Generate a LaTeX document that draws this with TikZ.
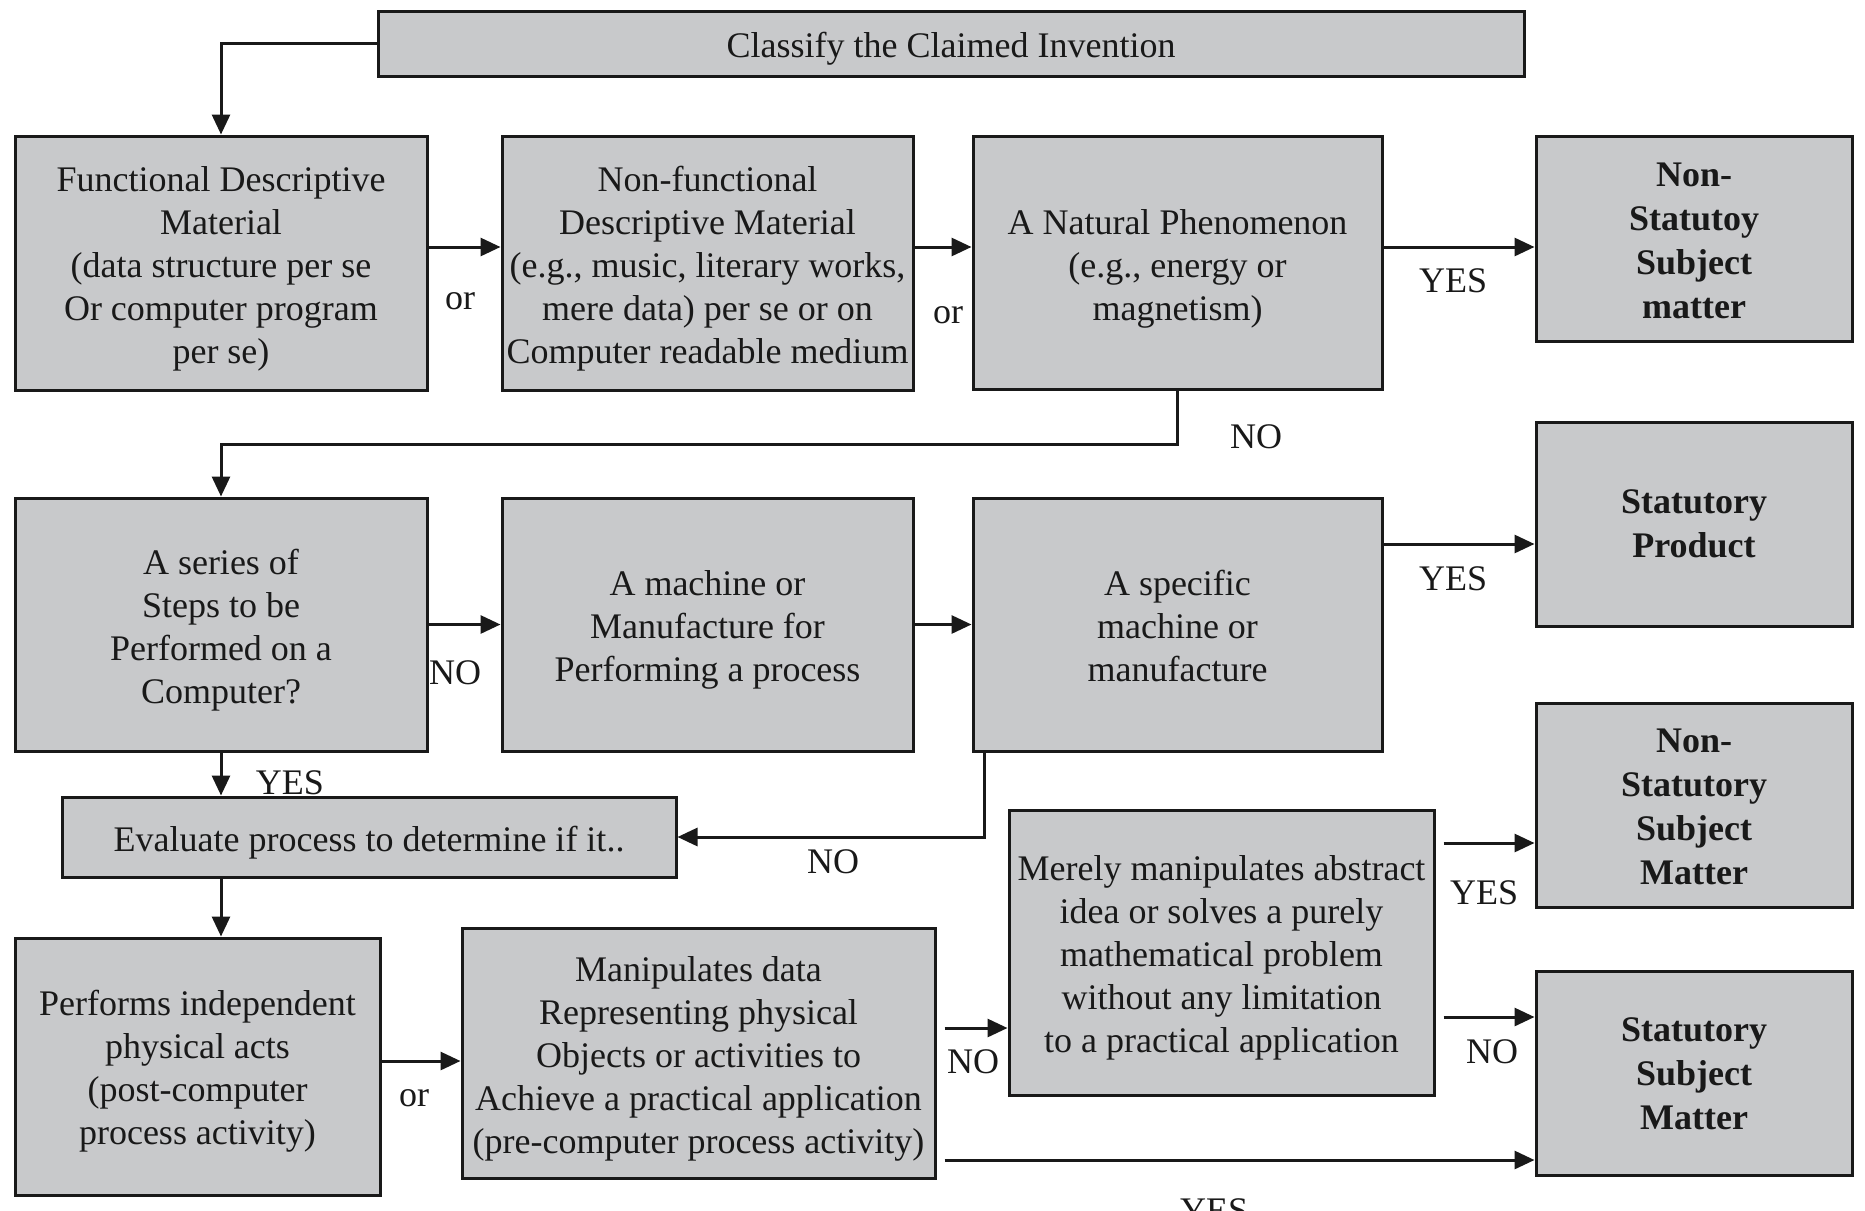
\documentclass[tikz,border=0pt]{standalone}
\usepackage{fontspec}
\setmainfont{Liberation Serif}
\usetikzlibrary{arrows.meta}
\definecolor{boxgray}{RGB}{200,201,203}
\definecolor{ink}{RGB}{25,25,25}
\tikzset{
  box/.style={draw=ink, line width=3pt, fill=boxgray, inner sep=0pt},
  txt/.style={inner sep=0pt, align=center, font=\fontsize{36}{43}\selectfont, text=ink},
  btxt/.style={txt, font=\bfseries\fontsize{36}{44}\selectfont},
  lbl/.style={inner sep=0pt, font=\fontsize{36}{44}\selectfont, text=ink},
  arr/.style={draw=ink, line width=3pt, -{Triangle[length=20pt,width=18pt]}},
}
\begin{document}
\begin{tikzpicture}[x=1pt,y=-1pt]
\useasboundingbox[fill=white] (0,0) rectangle (1865,1210);
\begin{scope}
\clip (0,0) rectangle (1865,1210);
% boxes
\node[box, minimum width=1146pt, minimum height=65pt] (cl) at (951,43.5) {};
\node[box, minimum width=412pt, minimum height=254pt] (fd) at (221,263) {};
\node[box, minimum width=411pt, minimum height=254pt] (nf) at (707.5,263) {};
\node[box, minimum width=409pt, minimum height=253pt] (np) at (1177.5,262.5) {};
\node[box, minimum width=316pt, minimum height=205pt] (ns1) at (1694,238.5) {};
\node[box, minimum width=412pt, minimum height=253pt] (sr) at (221,624.5) {};
\node[box, minimum width=411pt, minimum height=253pt] (mc) at (707.5,624.5) {};
\node[box, minimum width=409pt, minimum height=253pt] (sp) at (1177.5,624.5) {};
\node[box, minimum width=316pt, minimum height=204pt] (sp2) at (1694,524) {};
\node[box, minimum width=614pt, minimum height=80pt] (ev) at (369,837) {};
\node[box, minimum width=316pt, minimum height=204pt] (ns3) at (1694,805) {};
\node[box, minimum width=425pt, minimum height=285pt] (me) at (1221.5,952.5) {};
\node[box, minimum width=316pt, minimum height=204pt] (ssm) at (1694,1073) {};
\node[box, minimum width=365pt, minimum height=257pt] (pf) at (197.5,1066.5) {};
\node[box, minimum width=473pt, minimum height=250pt] (mp) at (698.5,1053) {};
% box texts
\node[txt] (cl-t) at ([yshift=-5pt]cl.center) {Classify the Claimed Invention};
\node[txt] (fd-t) at ([yshift=-6pt]fd.center) {Functional Descriptive\\Material\\(data structure per se\\Or computer program\\per se)};
\node[txt] (nf-t) at ([yshift=-6pt]nf.center) {Non-functional\\Descriptive Material\\(e.g., music, literary works,\\mere data) per se or on\\Computer readable medium};
\node[txt] (np-t) at ([yshift=-6pt]np.center) {A Natural Phenomenon\\(e.g., energy or\\magnetism)};
\node[btxt] (ns1-t) at ([yshift=-2pt]ns1.center) {Non-\\Statutoy\\Subject\\matter};
\node[txt] (sr-t) at ([yshift=-6pt]sr.center) {A series of\\Steps to be\\Performed on a\\Computer?};
\node[txt] (mc-t) at ([yshift=-5pt]mc.center) {A machine or\\Manufacture for\\Performing a process};
\node[txt] (sp-t) at ([yshift=-1pt]sp.center) {A specific\\machine or\\manufacture};
\node[btxt] (sp2-t) at (sp2.center) {Statutory\\Product};
\node[txt] (ev-t) at ([yshift=-6pt]ev.center) {Evaluate process to determine if it..};
\node[btxt] (ns3-t) at ([yshift=-2pt]ns3.center) {Non-\\Statutory\\Subject\\Matter};
\node[txt] (me-t) at ([yshift=-5pt]me.center) {Merely manipulates abstract\\idea or solves a purely\\mathematical problem\\without any limitation\\to a practical application};
\node[btxt] (ssm-t) at ([yshift=-1pt]ssm.center) {Statutory\\Subject\\Matter};
\node[txt] (pf-t) at ([yshift=-5pt]pf.center) {Performs independent\\physical acts\\(post-computer\\process activity)};
\node[txt] (mp-t) at ([yshift=-6pt]mp.center) {Manipulates data\\Representing physical\\Objects or activities to\\Achieve a practical application\\(pre-computer process activity)};
% connectors
\draw[arr] (cl.west) -| (fd.north);
\coordinate (a1) at ([yshift=16pt]fd.east);
\draw[arr] (a1) -- (a1 -| nf.west);
\coordinate (a2) at ([yshift=16pt]nf.east);
\draw[arr] (a2) -- (a2 -| np.west);
\coordinate (a3) at ([yshift=15.5pt]np.east);
\draw[arr] (a3) -- (a3 -| ns1.west);
\draw[arr] (np.south) -- ++(0,54) -| (sr.north);
\draw[arr] (sr.east) -- (mc.west);
\draw[arr] (mc.east) -- (sp.west);
\coordinate (a4) at ([yshift=80.5pt]sp.east);
\draw[arr] (a4) -- (a4 -| sp2.west);
\draw[arr] (sr.south) -- (sr.south |- ev.north);
\coordinate (a5) at ([xshift=13pt]sp.south west);
\draw[arr] (a5) |- (ev.east);
\coordinate (a6) at (sr.south |- ev.south);
\draw[arr] (a6) -- (a6 |- pf.north);
\coordinate (a7) at ([yshift=5.5pt]pf.east);
\draw[arr] (a7) -- (a7 -| mp.west);
\coordinate (a8) at ([xshift=8pt,yshift=25pt]mp.east);
\draw[arr] (a8) -- (a8 -| me.west);
\coordinate (a9) at ([xshift=8pt,yshift=109.5pt]me.east);
\draw[arr] (a9) -- (a9 -| ns3.west);
\coordinate (a10) at ([xshift=8pt,yshift=-64.5pt]me.east);
\draw[arr] (a10) -- (a10 -| ssm.west);
\coordinate (a11) at ([xshift=8pt,yshift=-107pt]mp.east);
\draw[arr] (a11) -- (a11 -| ssm.west);
% labels
\node[lbl] (l1) at (460,301) {or};
\node[lbl] (l2) at (948,315) {or};
\node[lbl] (l3) at (1453,281) {YES};
\node[lbl] (l4) at (1256,437) {NO};
\node[lbl] (l5) at (455,673) {NO};
\node[lbl] (l6) at (1453,579) {YES};
\node[lbl] (l7) at (290,783) {YES};
\node[lbl] (l8) at (833,862) {NO};
\node[lbl] (l9) at (414,1098) {or};
\node[lbl] (l10) at (973,1062) {NO};
\node[lbl] (l11) at (1484,893) {YES};
\node[lbl] (l12) at (1492,1052) {NO};
\node[lbl, anchor=base] (l13) at (1214,1222) {YES};
\end{scope}
\end{tikzpicture}
\end{document}
